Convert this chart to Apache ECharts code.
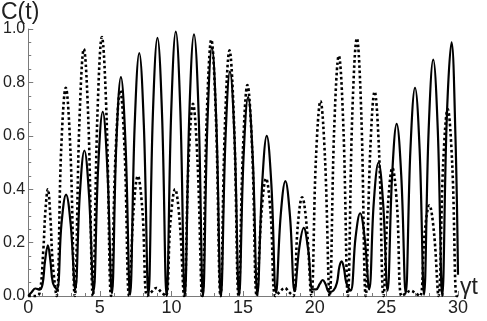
<!DOCTYPE html>
<html>
<head>
<meta charset="utf-8">
<script src="https://cdn.jsdelivr.net/npm/echarts@6/dist/echarts.min.js"></script>
<style>
html,body{margin:0;padding:0;background:#fff;}
#chart{width:487px;height:321px;}
</style>
</head>
<body>
<div id="chart"></div>
<script>
// Axis ticks
const xTicks = [0, 5, 10, 15, 20, 25, 30];
const yTicks = [0.0, 0.2, 0.4, 0.6, 0.8, 1.0];
const yAxisTitle = 'C(t)';
const xAxisTitle = 'γt';

// Solid curve: [γt, C]
const solidCurve = [
[0,0],[0.25,0.015],[0.5,0.028],[0.8,0.024],[1.0,0.045],[1.17,0.13],[1.37,0.19],[1.55,0.13],[1.72,0.05],[2.0,0.025],
[2.32,0.27],[2.64,0.38],[2.96,0.27],[3.28,0.025],
[3.6,0.38],[3.92,0.545],[4.24,0.38],[4.56,0.018],
[4.88,0.48],[5.2,0.69],[5.52,0.48],[5.84,0.01],
[6.15,0.57],[6.47,0.82],[6.79,0.57],[7.11,0.005],
[7.43,0.64],[7.75,0.91],[8.07,0.64],[8.39,0.003],
[8.7,0.68],[9.02,0.967],[9.34,0.68],[9.66,0.0],
[9.98,0.69],[10.3,0.99],[10.62,0.69],[10.93,0.0],
[11.25,0.69],[11.57,0.98],[11.89,0.69],[12.2,0.0],
[12.51,0.65],[12.82,0.93],[13.13,0.65],[13.45,0.0],
[13.77,0.59],[14.08,0.84],[14.4,0.59],[14.72,0.003],
[15.03,0.52],[15.35,0.745],[15.67,0.52],[16.0,0.008],
[16.33,0.42],[16.65,0.6],[16.97,0.42],[17.3,0.012],
[17.62,0.30],[17.95,0.43],[18.27,0.30],[18.6,0.018],
[18.92,0.18],[19.23,0.255],[19.55,0.17],[19.85,0.025],
[20.1,0.025],[20.35,0.045],[20.55,0.06],[20.75,0.045],[21.0,0.015],[21.3,0.02],[21.55,0.05],[21.72,0.11],[21.88,0.13],[22.05,0.1],[22.2,0.05],[22.5,0.02],
[22.85,0.22],[23.17,0.31],[23.48,0.22],[23.8,0.025],
[24.12,0.35],[24.45,0.5],[24.77,0.35],[25.08,0.02],
[25.4,0.45],[25.72,0.645],[26.04,0.45],[26.35,0.01],
[26.68,0.55],[27.0,0.78],[27.32,0.55],[27.63,0.005],
[27.95,0.62],[28.27,0.885],[28.59,0.62],[28.9,0.0],
[29.22,0.67],[29.55,0.95],[29.82,0.6],[30.0,0.08]
];

// Dotted curve: [γt, C]
const dottedCurve = [
[0,0],[0.5,0.0],[0.8,0.012],[1.05,0.17],[1.2,0.32],[1.37,0.40],[1.55,0.29],[1.7,0.13],[1.98,0.0],
[2.3,0.55],[2.62,0.78],[2.94,0.55],[3.25,0.0],
[3.57,0.65],[3.88,0.925],[4.2,0.65],[4.51,0.0],
[4.83,0.68],[5.14,0.97],[5.46,0.68],[5.78,0.0],
[6.1,0.54],[6.42,0.77],[6.73,0.54],[7.04,0.0],
[7.35,0.32],[7.65,0.45],[7.97,0.32],[8.3,0.0],
[8.6,0.015],[8.95,0.03],[9.28,0.015],[9.6,0.0],
[9.93,0.28],[10.25,0.40],[10.57,0.28],[10.88,0.0],
[11.19,0.50],[11.5,0.72],[11.82,0.50],[12.14,0.0],
[12.46,0.67],[12.78,0.96],[13.1,0.67],[13.42,0.0],
[13.73,0.64],[14.05,0.92],[14.37,0.64],[14.68,0.0],
[14.99,0.55],[15.3,0.79],[15.63,0.55],[15.95,0.0],
[16.28,0.31],[16.6,0.44],[16.92,0.31],[17.25,0.0],
[17.55,0.015],[17.9,0.03],[18.2,0.015],[18.5,0.0],
[18.81,0.26],[19.12,0.37],[19.44,0.26],[19.76,0.0],
[20.08,0.51],[20.4,0.73],[20.72,0.51],[21.04,0.0],
[21.36,0.63],[21.68,0.9],[22.0,0.63],[22.31,0.0],
[22.62,0.68],[22.94,0.965],[23.25,0.68],[23.56,0.0],
[23.87,0.54],[24.18,0.765],[24.49,0.54],[24.8,0.0],
[25.11,0.34],[25.42,0.48],[25.74,0.34],[26.06,0.0],
[26.38,0.01],[26.7,0.02],[27.03,0.01],[27.35,0.0],
[27.68,0.24],[28.0,0.34],[28.32,0.24],[28.64,0.0],
[28.96,0.49],[29.28,0.70],[29.6,0.49],[29.9,0.0],[30,0.0]
];

const chart = echarts.init(document.getElementById('chart'), null, {renderer: 'canvas'});
const FONT = '"Liberation Sans", Arial, sans-serif';
const axisColor = '#7a7a7a';
const labelColor = '#222';

chart.setOption({
  animation: false,
  backgroundColor: '#fff',
  grid: {left: 27, right: 29, top: 29, bottom: 25, containLabel: false},
  xAxis: {
    type: 'value', min: xTicks[0], max: xTicks[xTicks.length - 1], interval: 5,
    axisLine: {show: true, lineStyle: {color: axisColor, width: 1}},
    axisTick: {show: true, inside: true, length: 5, lineStyle: {color: axisColor}},
    minorTick: {show: true, splitNumber: 5, length: 3, lineStyle: {color: axisColor}},
    splitLine: {show: false},
    axisLabel: {color: labelColor, fontSize: 18, fontFamily: FONT, margin: 3,
      formatter: v => String(v)}
  },
  yAxis: {
    type: 'value', min: yTicks[0], max: yTicks[yTicks.length - 1], interval: 0.2,
    axisLine: {show: true, lineStyle: {color: axisColor, width: 1}},
    axisTick: {show: true, inside: true, length: 5, lineStyle: {color: axisColor}},
    minorTick: {show: true, splitNumber: 4, length: 3, lineStyle: {color: axisColor}},
    splitLine: {show: false},
    axisLabel: {color: labelColor, fontSize: 16, fontFamily: FONT, margin: 3,
      formatter: v => v.toFixed(1)}
  },
  graphic: [
    {type: 'text', left: 1, top: 1, style: {text: yAxisTitle, fill: labelColor, font: '23px ' + FONT}},
    {type: 'text', left: 460, top: 276, style: {text: xAxisTitle, fill: labelColor, font: '23px ' + FONT}}
  ],
  series: [
    {type: 'line', data: solidCurve, showSymbol: false, smooth: 0.4, clip: false,
     lineStyle: {color: '#000', width: 2.2}},
    {type: 'line', data: dottedCurve, showSymbol: false, smooth: 0.4, clip: false,
     lineStyle: {color: '#000', width: 2.6, type: [2.6, 2.6]}}
  ]
});
</script>
</body>
</html>
